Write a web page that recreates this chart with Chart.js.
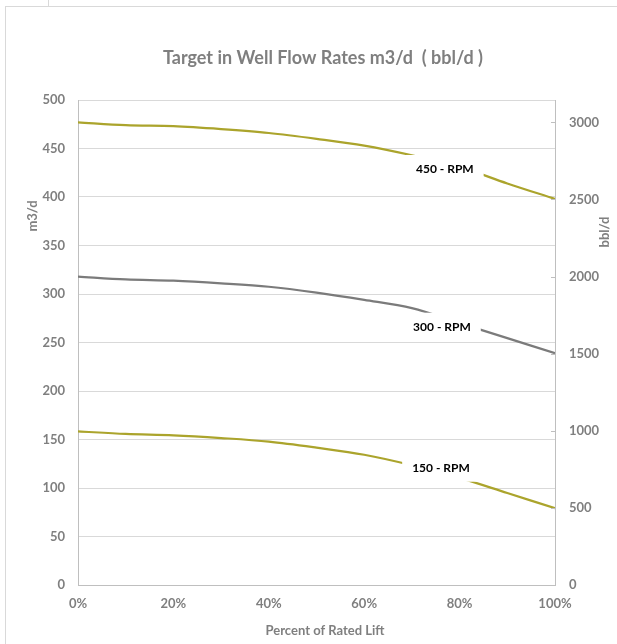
<!DOCTYPE html>
<html>
<head>
<meta charset="utf-8">
<script src="https://cdn.jsdelivr.net/npm/chart.js@4.4.1/dist/chart.umd.min.js"></script>
<style>
  html, body { margin:0; padding:0; background:#fff; }
  body { width:617px; height:644px; position:relative; overflow:hidden; }
  #wrap { position:absolute; left:0; top:0; width:617px; height:644px; }
  .ln { position:absolute; background:#d9d9d9; }
</style>
</head>
<body>
<div class="ln" style="left:5px; top:6px; width:612px; height:1px;"></div>
<div class="ln" style="left:5px; top:6px; width:1px; height:638px;"></div>
<div class="ln" style="left:48px; top:0px; width:1px; height:6px;"></div>
<div id="wrap"><canvas id="c" width="617" height="644"></canvas></div>
<script>
// ---- data ----
const xPct = [0, 10, 20, 30, 40, 50, 60, 70, 80, 90, 100];
const rpm450 = [477, 474, 473, 470, 466, 460, 453, 443, 431, 414, 398];
const rpm300 = [318, 315, 313.7, 311, 307.5, 301.5, 294, 285.5, 270, 254.5, 239];
const rpm150 = [158.4, 155.7, 154.3, 151.5, 147.8, 141.6, 134.3, 123.5, 110.4, 94.8, 79.2];
const seriesNames = ['450 - RPM', '300 - RPM', '150 - RPM'];
const labelAtPct = [76.9, 76.3, 76.1];
const labelAtValue = [428.9, 266.3, 120.9];
const xTicks = [0, 20, 40, 60, 80, 100];
const leftTicks = [0, 50, 100, 150, 200, 250, 300, 350, 400, 450, 500];
const rightTicks = [0, 500, 1000, 1500, 2000, 2500, 3000];
const bblPerM3 = 6.2898;
const chartTitle = 'Target in Well Flow Rates m3/d  ( bbl/d )';
const xTitle = 'Percent of Rated Lift';
const yTitle = 'm3/d';
const y2Title = 'bbl/d';

const OLIVE = '#aba42c';
const GREY = '#7b7b7b';
const TXT = '#7f7f7f';
const FONT = 'Lato, "Open Sans", sans-serif';

function pts(arr) { return arr.map((v, i) => ({ x: xPct[i], y: v })); }
function setTicks(list) { return s => { s.ticks = list.map(v => ({ value: v })); }; }

const extras = {
  id: 'extras',
  afterDraw(chart) {
    const ctx = chart.ctx;
    const xs = chart.scales.x, ys = chart.scales.y, y2 = chart.scales.y2;
    // inward tick marks on right axis
    ctx.save();
    ctx.strokeStyle = '#bfbfbf';
    ctx.lineWidth = 1;
    y2.ticks.forEach(t => {
      const py = Math.round(y2.getPixelForValue(t.value)) + 0.5;
      ctx.beginPath();
      ctx.moveTo(xs.right - 4, py);
      ctx.lineTo(xs.right, py);
      ctx.stroke();
    });
    ctx.restore();

    // data labels with white boxes
    ctx.save();
    ctx.font = 'bold 12px ' + FONT;
    ctx.textAlign = 'center';
    ctx.textBaseline = 'middle';
    seriesNames.forEach((name, i) => {
      const px = xs.getPixelForValue(labelAtPct[i]);
      const py = ys.getPixelForValue(labelAtValue[i]);
      const w = ctx.measureText(name).width + 20;
      const h = 28;
      ctx.fillStyle = '#fff';
      ctx.fillRect(px - w / 2, py - h / 2, w, h);
      ctx.fillStyle = '#000';
      ctx.fillText(name, px, py);
    });
    ctx.restore();

    // titles
    ctx.save();
    ctx.fillStyle = TXT;
    ctx.textAlign = 'center';
    ctx.textBaseline = 'middle';
    ctx.font = 'bold 18px ' + FONT;
    ctx.fillText(chartTitle, 323, 58);
    ctx.font = 'bold 13px ' + FONT;
    ctx.fillText(xTitle, 325, 631);
    ctx.save();
    ctx.translate(33, 216);
    ctx.rotate(-Math.PI / 2);
    ctx.fillText(yTitle, 0, 0);
    ctx.restore();
    ctx.save();
    ctx.translate(605, 232);
    ctx.rotate(-Math.PI / 2);
    ctx.fillText(y2Title, 0, 0);
    ctx.restore();
    ctx.restore();
  }
};

const tickFont = { family: FONT, size: 13, weight: 'bold' };

new Chart(document.getElementById('c'), {
  type: 'line',
  data: {
    datasets: [
      { label: seriesNames[0], data: pts(rpm450), borderColor: OLIVE },
      { label: seriesNames[1], data: pts(rpm300), borderColor: GREY },
      { label: seriesNames[2], data: pts(rpm150), borderColor: OLIVE }
    ]
  },
  options: {
    responsive: false,
    animation: false,
    devicePixelRatio: 1,
    layout: { padding: { top: 100, left: 0, right: 0, bottom: 0 } },
    elements: {
      point: { radius: 0 },
      line: { borderWidth: 2.2, tension: 0.4, cubicInterpolationMode: 'monotone', fill: false }
    },
    plugins: { legend: { display: false }, tooltip: { enabled: false }, title: { display: false } },
    scales: {
      x: {
        type: 'linear', min: xTicks[0], max: xTicks[xTicks.length - 1],
        afterFit(s) { s.height = 59; },
        afterBuildTicks: setTicks(xTicks),
        ticks: { padding: 11, color: TXT, font: tickFont, callback: v => v + '%', maxRotation: 0, autoSkip: false },
        grid: { display: false, drawTicks: false },
        border: { display: true, color: '#bfbfbf', width: 1 }
      },
      y: {
        position: 'left', min: leftTicks[0], max: leftTicks[leftTicks.length - 1],
        afterFit(s) { s.width = 78; },
        afterBuildTicks: setTicks(leftTicks),
        ticks: { padding: 13, color: TXT, font: tickFont, autoSkip: false },
        grid: { color: '#d9d9d9', drawTicks: false },
        border: { display: true, color: '#bfbfbf', width: 1 }
      },
      y2: {
        position: 'right', min: 0, max: leftTicks[leftTicks.length - 1] * bblPerM3,
        afterFit(s) { s.width = 62; },
        afterBuildTicks: setTicks(rightTicks),
        ticks: { padding: 14, color: TXT, font: tickFont, autoSkip: false, callback: v => String(v) },
        grid: { display: false, drawOnChartArea: false, drawTicks: false },
        border: { display: true, color: '#bfbfbf', width: 1 }
      }
    }
  },
  plugins: [extras]
});
</script>
</body>
</html>
